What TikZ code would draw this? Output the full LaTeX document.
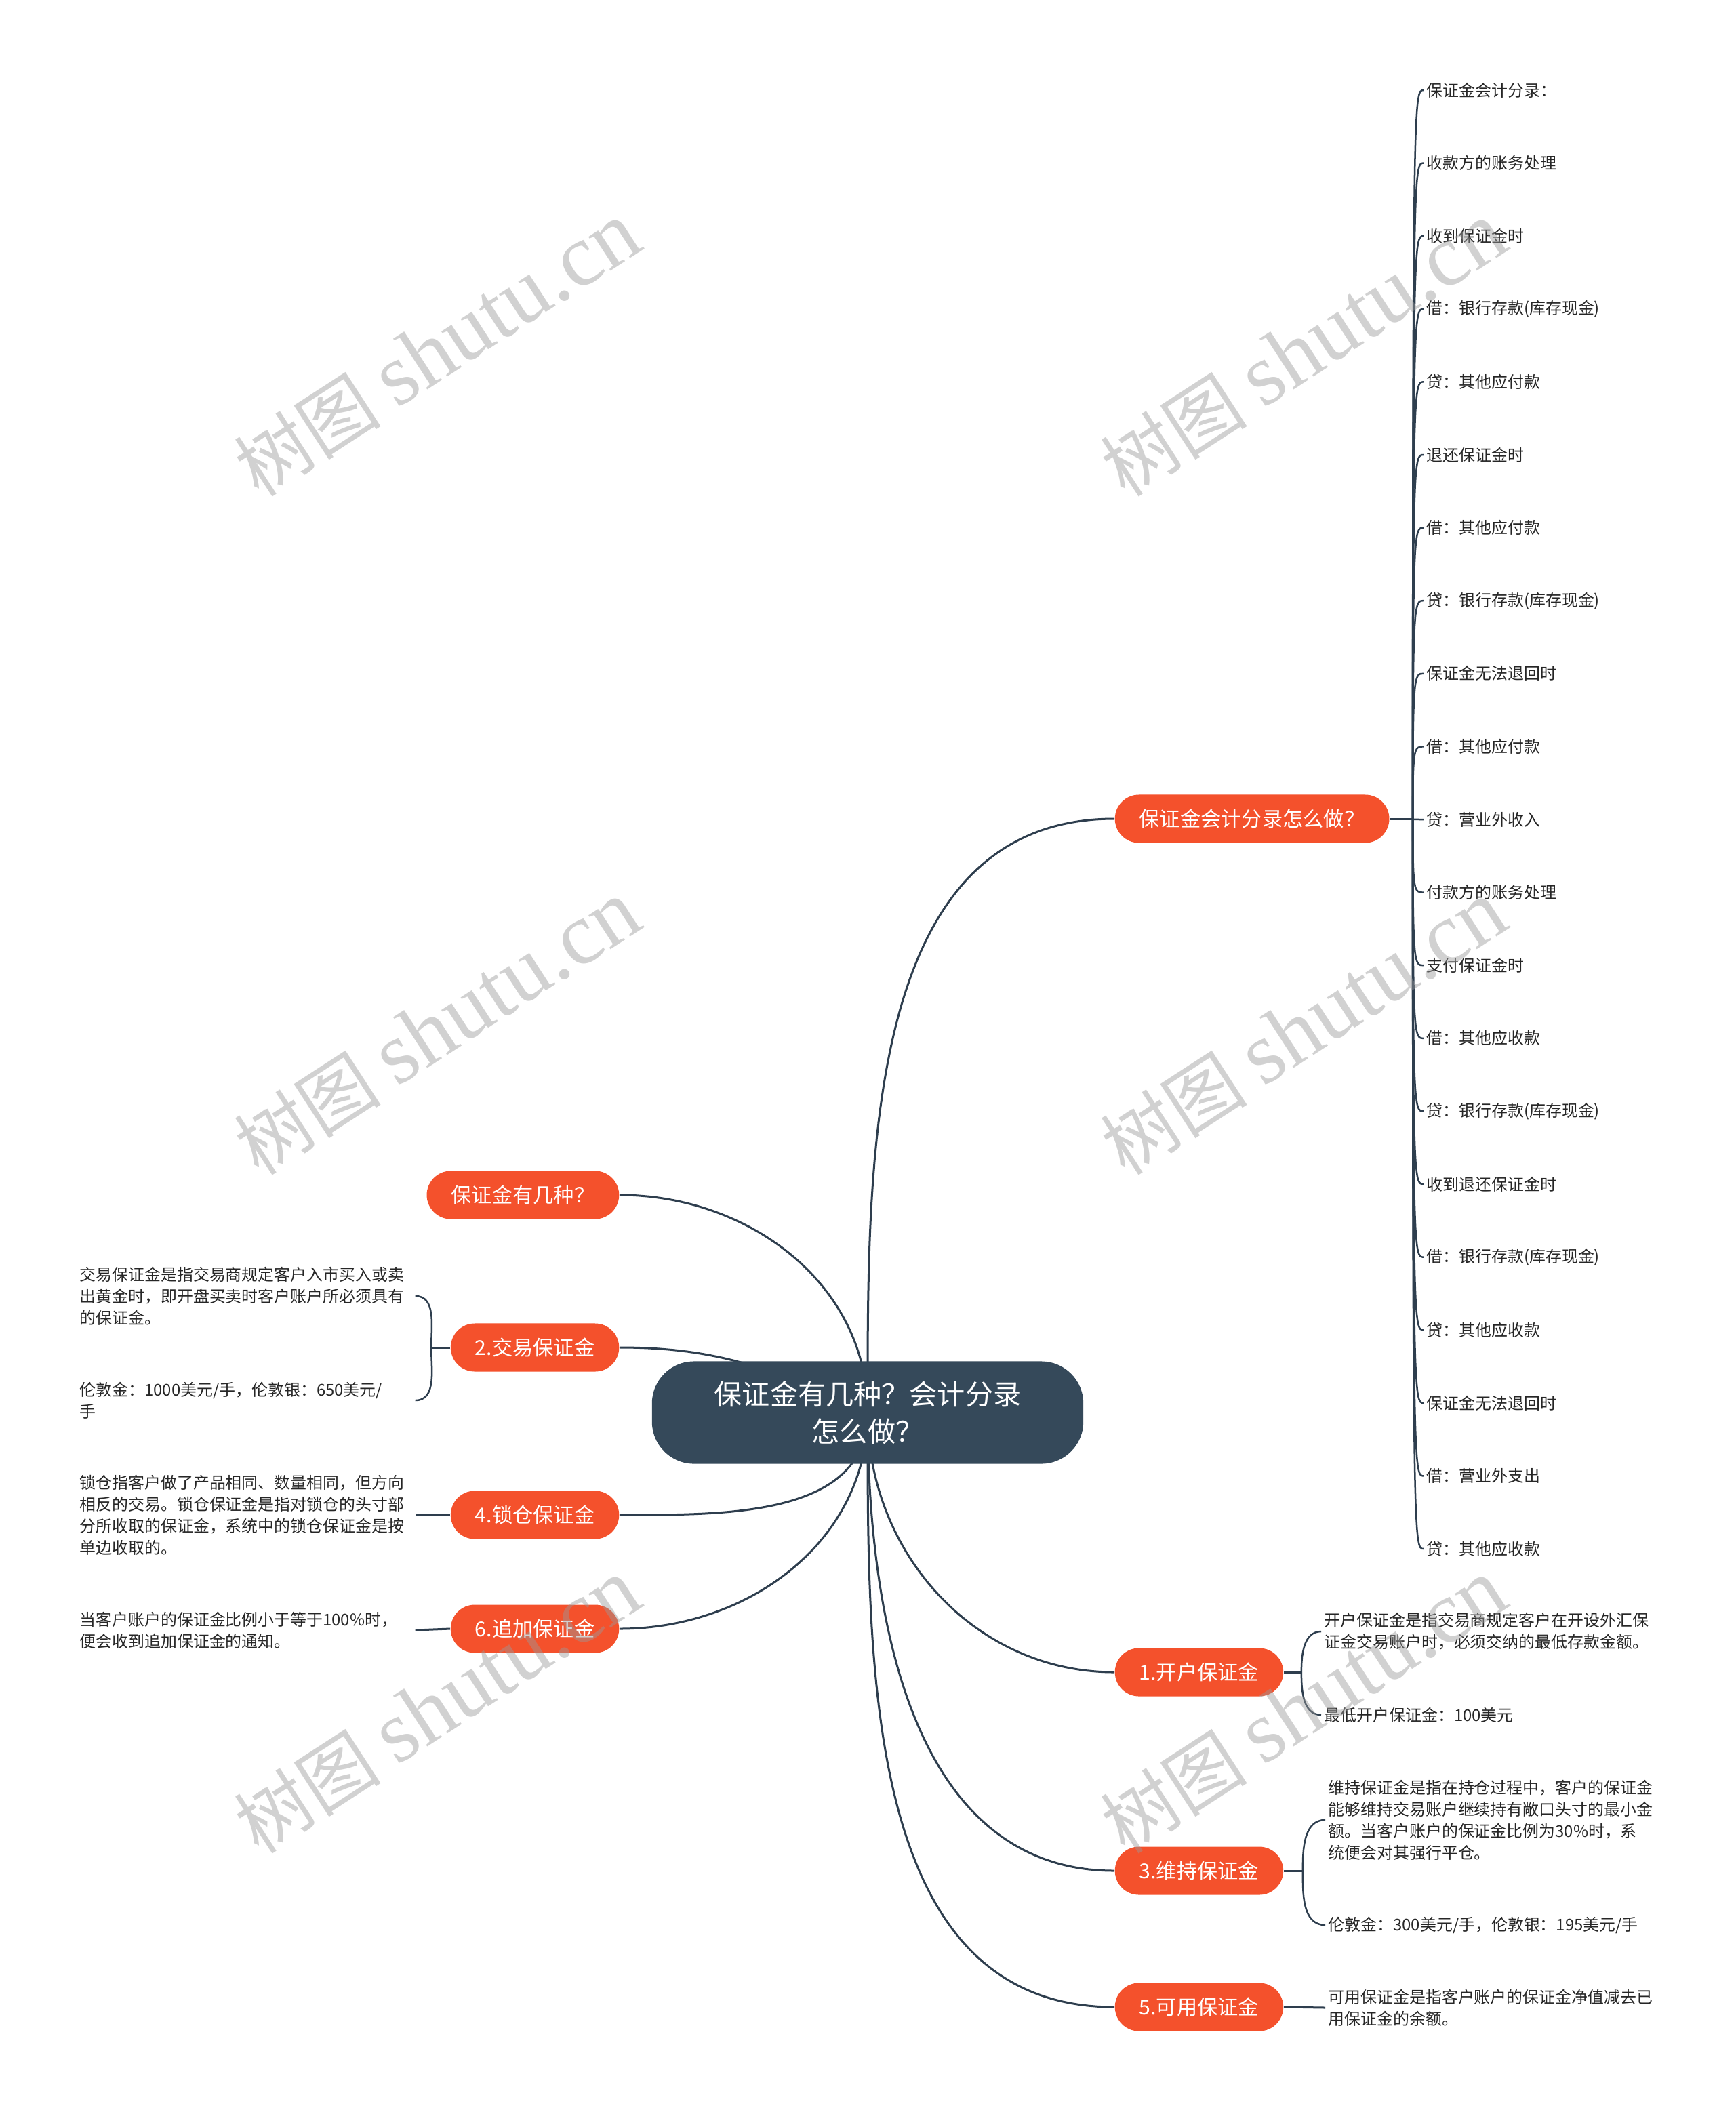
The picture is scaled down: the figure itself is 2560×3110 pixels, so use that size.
\documentclass[tikz,border=0pt]{standalone}
\usepackage{fontspec}
\setmainfont{Noto Sans CJK SC}
\newfontfamily\wmlatin{Liberation Serif}
\usetikzlibrary{backgrounds}

\definecolor{rootfill}{HTML}{35495A}
\definecolor{topicfill}{HTML}{F4512C}
\definecolor{linkcol}{HTML}{2E3E4E}
\definecolor{wmgray}{HTML}{9A9A9A}

\begin{document}
\begin{tikzpicture}[
    x=0.01cm, y=-0.01cm,
    every node/.style={inner sep=0pt},
    root/.style={fill=rootfill, text=white, rounded corners=0.62cm,
        minimum width=6.36cm, minimum height=1.51cm, align=center,
        font=\fontsize{11.7pt}{15.6pt}\selectfont},
    topic/.style={fill=topicfill, text=white, rounded corners=0.355cm,
        minimum height=0.71cm, inner xsep=0.36cm,
        font=\fontsize{8.6pt}{10pt}\selectfont},
    leaf/.style={text=black!85, align=left, inner sep=0.04cm,
        font=\fontsize{6.8pt}{9.1pt}\selectfont},
    wideleaf/.style={leaf, text width=4.9cm},
    link/.style={draw=linkcol, line width=0.03cm},
    sublink/.style={draw=linkcol, line width=0.025cm},
    watermark/.style={text=wmgray, text opacity=0.45, rotate=33,
        font=\fontsize{31pt}{31pt}\selectfont},
]
\useasboundingbox (0,0) rectangle (2560,3110);

% ===== ROOT =====
\node[root] (root) at (1280,2084) {保证金有几种？会计分录\\怎么做？};

% ===== MAIN TOPICS =====
\node[topic, anchor=west] (q-acc)  at (1644,1208) {保证金会计分录怎么做？};
\node[topic, anchor=east] (q-kind) at (914,1763)  {保证金有几种？};
\node[topic, anchor=east] (m2)     at (914,1988)  {2.交易保证金};
\node[topic, anchor=east] (m4)     at (914,2235)  {4.锁仓保证金};
\node[topic, anchor=east] (m6)     at (914,2403)  {6.追加保证金};
\node[topic, anchor=west] (m1)     at (1644,2467) {1.开户保证金};
\node[topic, anchor=west] (m3)     at (1644,2760) {3.维持保证金};
\node[topic, anchor=west] (m5)     at (1644,2961) {5.可用保证金};

% ===== ACCOUNTING ENTRIES (right list) =====
\foreach \txt [count=\i from 0] in {保证金会计分录：, 收款方的账务处理, 收到保证金时,
    借：银行存款(库存现金), 贷：其他应付款, 退还保证金时, 借：其他应付款,
    贷：银行存款(库存现金), 保证金无法退回时, 借：其他应付款, 贷：营业外收入,
    付款方的账务处理, 支付保证金时, 借：其他应收款, 贷：银行存款(库存现金),
    收到退还保证金时, 借：银行存款(库存现金), 贷：其他应收款, 保证金无法退回时,
    借：营业外支出, 贷：其他应收款}
  \node[leaf, anchor=west] (acc-\i) at ({2100}, {133+107.6*\i}) {\txt};

% ===== LEFT DETAILS =====
\node[wideleaf, anchor=west] (t2a) at (113,1912)
    {交易保证金是指交易商规定客户入市买入或卖\\出黄金时，即开盘买卖时客户账户所必须具有\\的保证金。};
\node[wideleaf, anchor=west] (t2b) at (113,2066)
    {伦敦金：1000美元/手，伦敦银：650美元/\\手};
\node[wideleaf, anchor=west] (t4) at (113,2235)
    {锁仓指客户做了产品相同、数量相同，但方向\\相反的交易。锁仓保证金是指对锁仓的头寸部\\分所收取的保证金，系统中的锁仓保证金是按\\单边收取的。};
\node[wideleaf, anchor=west] (t6) at (113,2405)
    {当客户账户的保证金比例小于等于100\%时，\\便会收到追加保证金的通知。};

% ===== RIGHT DETAILS =====
\node[leaf, anchor=west] (t1a) at (1949,2407)
    {开户保证金是指交易商规定客户在开设外汇保\\证金交易账户时，必须交纳的最低存款金额。};
\node[leaf, anchor=west] (t1b) at (1949,2530) {最低开户保证金：100美元};
\node[leaf, anchor=west] (t3a) at (1955,2685)
    {维持保证金是指在持仓过程中，客户的保证金\\能够维持交易账户继续持有敞口头寸的最小金\\额。当客户账户的保证金比例为30\%时，系\\统便会对其强行平仓。};
\node[leaf, anchor=west] (t3b) at (1955,2840) {伦敦金：300美元/手，伦敦银：195美元/手};
\node[leaf, anchor=west] (t5) at (1955,2962)
    {可用保证金是指客户账户的保证金净值减去已\\用保证金的余额。};

% hubs for the brackets
\path (q-acc.east) ++(34,0) coordinate (acc-hub);
\path (m2.west) ++(-28,0) coordinate (m2-hub);
\path (m1.east) ++(26,0) coordinate (m1-hub);
\path (m3.east) ++(28,0) coordinate (m3-hub);

% ===== CONNECTORS =====
\begin{pgfonlayer}{background}
\draw[link] (root.center) to[out=90, in=180] (q-acc.west);
\draw[link] (root.center) to[out=90, in=0] (q-kind.east);
\draw[link] (root.center) to[out=155, in=0] (m2.east);
\draw[link] (root.center) to[out=-90, in=0] (m4.east);
\draw[link] (root.center) to[out=-90, in=0] (m6.east);
\draw[link] (root.center) to[out=-90, in=180] (m1.west);
\draw[link] (root.center) to[out=-90, in=180] (m3.west);
\draw[link] (root.center) to[out=-90, in=180] (m5.west);
\end{pgfonlayer}

\draw[link] (q-acc.east) -- (acc-hub);
\foreach \i in {0,...,20}
  \draw[sublink] (acc-hub) .. controls (acc-hub |- acc-\i.west)
      and ([xshift=-0.14cm]acc-\i.west) .. (acc-\i.west);

\draw[link] (m2.west) -- (m2-hub);
\draw[sublink] (m2-hub) to[out=90, in=0] (t2a.east);
\draw[sublink] (m2-hub) to[out=-90, in=0] (t2b.east);
\draw[link] (m4.west) -- (t4.east);
\draw[link] (m6.west) -- (t6.east);

\draw[link] (m1.east) -- (m1-hub);
\draw[sublink] (m1-hub) to[out=90, in=180] (t1a.west);
\draw[sublink] (m1-hub) to[out=-90, in=180] (t1b.west);
\draw[link] (m3.east) -- (m3-hub);
\draw[sublink] (m3-hub) to[out=90, in=180] (t3a.west);
\draw[sublink] (m3-hub) to[out=-90, in=180] (t3b.west);
\draw[link] (m5.east) -- (t5.west);

% ===== WATERMARKS =====
\foreach \wx/\wy [count=\k] in {645/516, 1923/516, 645/1517, 1923/1517, 645/2518, 1923/2518}
  \node[watermark] (wm-\k) at (\wx,\wy) {树图 {\wmlatin\fontsize{37pt}{37pt}\selectfont shutu.cn}};
\end{tikzpicture}
\end{document}
